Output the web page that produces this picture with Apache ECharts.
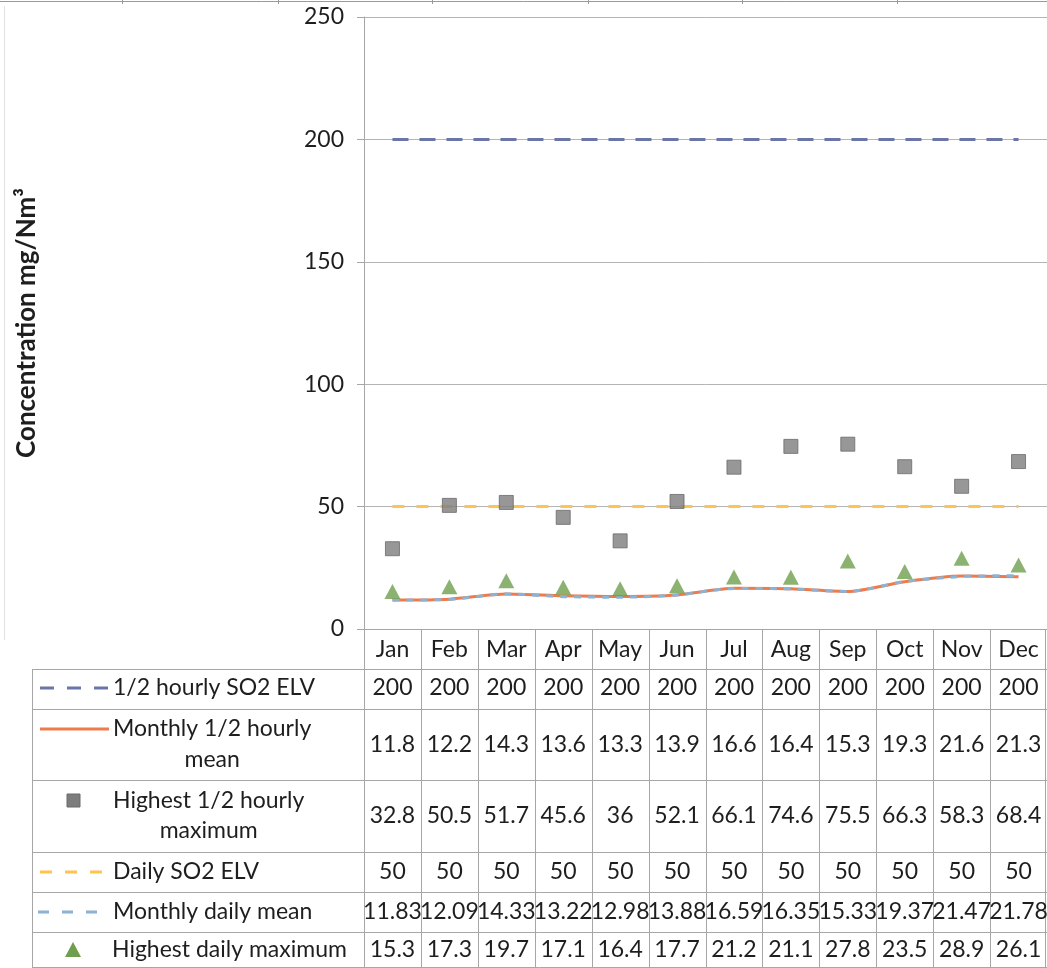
<!DOCTYPE html>
<html>
<head>
<meta charset="utf-8">
<script src="https://cdn.jsdelivr.net/npm/echarts@6/dist/echarts.min.js"></script>
<style>
  html, body { margin: 0; padding: 0; background: #fff; }
  #chart { width: 1047px; height: 968px; }
</style>
</head>
<body>
<div id="chart"></div>
<script>
// Monthly SO2 concentrations against emission limit values (mg/Nm3)
const months = ['Jan', 'Feb', 'Mar', 'Apr', 'May', 'Jun', 'Jul', 'Aug', 'Sep', 'Oct', 'Nov', 'Dec'];
const halfHourlyElv = [200, 200, 200, 200, 200, 200, 200, 200, 200, 200, 200, 200];
const monthlyHalfHourlyMean = [11.8, 12.2, 14.3, 13.6, 13.3, 13.9, 16.6, 16.4, 15.3, 19.3, 21.6, 21.3];
const highestHalfHourlyMax = [32.8, 50.5, 51.7, 45.6, 36, 52.1, 66.1, 74.6, 75.5, 66.3, 58.3, 68.4];
const dailyElv = [50, 50, 50, 50, 50, 50, 50, 50, 50, 50, 50, 50];
const monthlyDailyMean = [11.83, 12.09, 14.33, 13.22, 12.98, 13.88, 16.59, 16.35, 15.33, 19.37, 21.47, 21.78];
const highestDailyMax = [15.3, 17.3, 19.7, 17.1, 16.4, 17.7, 21.2, 21.1, 27.8, 23.5, 28.9, 26.1];
const yTicks = [0, 50, 100, 150, 200, 250];

const FONT = 'Lato, "Open Sans", "DejaVu Sans", sans-serif';
const FS = 23;
const TEXT = '#1e1e1e';
const RULE = '#a6a6a6';

const COLORS = {
  halfElv: '#6b76a8',
  halfMean: '#ee7b4c',
  halfMax: '#7d7d7d',
  dayElv: '#ffc44f',
  dayMean: '#8db2d2',
  dayMax: '#6f9f4e'
};

const GRID = { left: 364, top: 17, right: 0, bottom: 339, containLabel: false, outerBoundsMode: 'none' };

const chart = echarts.init(document.getElementById('chart'), null, { renderer: 'canvas' });

chart.setOption({
  animation: false,
  backgroundColor: '#ffffff',
  grid: GRID,
  xAxis: {
    type: 'category',
    data: months,
    boundaryGap: true,
    axisLine: { show: true, lineStyle: { color: RULE, width: 1 } },
    axisTick: { show: false },
    axisLabel: { fontFamily: FONT, fontSize: FS, color: TEXT, margin: 9, interval: 0, hideOverlap: false },
    splitLine: { show: false }
  },
  yAxis: {
    type: 'value',
    min: yTicks[0],
    max: yTicks[yTicks.length - 1],
    interval: 50,
    name: 'Concentration mg/Nm³',
    nameLocation: 'middle',
    nameGap: 324,
    nameRotate: 90,
    nameTextStyle: { fontFamily: FONT, fontSize: 26, fontWeight: 'bold', color: TEXT },
    axisLine: { show: true, lineStyle: { color: RULE, width: 1 } },
    axisTick: { show: true, length: 7, lineStyle: { color: RULE } },
    axisLabel: { fontFamily: FONT, fontSize: FS, color: TEXT, margin: 20 },
    splitLine: { show: true, lineStyle: { color: '#b4b4b4', width: 1 } }
  },
  series: [
    {
      name: '1/2 hourly SO2 ELV', type: 'line', data: halfHourlyElv, symbol: 'none',
      lineStyle: { color: COLORS.halfElv, width: 3, type: [16, 11] }, z: 3
    },
    {
      name: 'Daily SO2 ELV', type: 'line', data: dailyElv, symbol: 'none',
      lineStyle: { color: COLORS.dayElv, width: 3, type: [12, 12] }, z: 3
    },
    {
      name: 'Monthly 1/2 hourly mean', type: 'line', data: monthlyHalfHourlyMean, symbol: 'none',
      smooth: 0.25, lineStyle: { color: COLORS.halfMean, width: 3 }, z: 4
    },
    {
      name: 'Monthly daily mean', type: 'line', data: monthlyDailyMean, symbol: 'none',
      smooth: 0.25, lineStyle: { color: COLORS.dayMean, width: 3, type: [7, 7] }, z: 5
    },
    {
      name: 'Highest 1/2 hourly maximum', type: 'scatter', data: highestHalfHourlyMax,
      symbol: 'rect', symbolSize: 14,
      itemStyle: { color: COLORS.halfMax, borderColor: '#6a6a6a', borderWidth: 1 }, z: 6
    },
    {
      name: 'Highest daily maximum', type: 'scatter', data: highestDailyMax,
      symbol: 'triangle', symbolSize: [16, 15],
      itemStyle: { color: COLORS.dayMax }, z: 7
    }
  ]
});

// ---- data table under the plot, aligned with the category columns ----
const plotLeft = GRID.left;
const plotRight = 1047 - GRID.right;
const colW = (plotRight - plotLeft) / months.length;
const axisY = 968 - GRID.bottom;

const rowLines = [669, 709, 780, 852, 892, 932, 967];
const tableLeft = 32;
const tableBottom = 968;

const rows = [
  { y: 688, values: halfHourlyElv.map(String) },
  { y: 745, values: monthlyHalfHourlyMean.map(String) },
  { y: 816, values: highestHalfHourlyMax.map(String) },
  { y: 872, values: dailyElv.map(String) },
  { y: 912, values: monthlyDailyMean.map(String) },
  { y: 950, values: highestDailyMax.map(String) }
];

const ctx = document.createElement('canvas').getContext('2d');
ctx.font = FS + 'px ' + FONT;
function textW(s) { return ctx.measureText(s).width; }

const g = [];
function hLine(x1, x2, y, color) {
  g.push({ type: 'line', silent: true, shape: { x1, y1: y + 0.5, x2, y2: y + 0.5 },
    style: { stroke: color || RULE, lineWidth: 1 } });
}
function vLine(x, y1, y2, color) {
  g.push({ type: 'line', silent: true, shape: { x1: x + 0.5, y1, x2: x + 0.5, y2 },
    style: { stroke: color || RULE, lineWidth: 1 } });
}
function label(x, y, text, align) {
  g.push({ type: 'text', silent: true, x, y, z: 10,
    style: { text, font: FS + 'px ' + FONT, fill: TEXT, align: align || 'left', verticalAlign: 'middle' } });
}

// borders
rowLines.forEach(y => hLine(tableLeft, plotRight, y));
vLine(tableLeft, rowLines[0], tableBottom);
vLine(plotLeft, axisY, tableBottom);
for (let k = 1; k < months.length; k++) {
  vLine(Math.round(plotLeft + k * colW), axisY, tableBottom);
}
vLine(plotRight - 2, axisY, tableBottom);

// cell values, centred on each category
rows.forEach(r => {
  r.values.forEach((v, i) => {
    const cx = chart.convertToPixel({ xAxisIndex: 0 }, i);
    label(cx, r.y, v, 'center');
  });
});

// legend keys and names in the first column
const keyX1 = 40, keyX2 = 109, nameX = 113;
function keyLine(y, color, dash) {
  g.push({ type: 'line', silent: true, shape: { x1: keyX1, y1: y, x2: keyX2, y2: y },
    style: { stroke: color, lineWidth: 3, lineDash: dash || null } });
}
function wrapped(y1, y2, first, second) {
  label(nameX, y1, first, 'left');
  label(nameX + textW(first) / 2, y2, second, 'center');
}

keyLine(688, COLORS.halfElv, [14, 13]);
label(nameX, 688, '1/2 hourly SO2 ELV');

keyLine(729, COLORS.halfMean);
wrapped(729, 760, 'Monthly 1/2 hourly', 'mean');

g.push({ type: 'rect', silent: true, shape: { x: 67, y: 794, width: 13, height: 13 },
  style: { fill: COLORS.halfMax, stroke: '#6a6a6a', lineWidth: 1 } });
wrapped(801, 831, 'Highest 1/2 hourly', 'maximum');

keyLine(872, COLORS.dayElv, [12, 13]);
label(nameX, 872, 'Daily SO2 ELV');

g.push({ type: 'line', silent: true, shape: { x1: 38, y1: 912, x2: 97, y2: 912 },
  style: { stroke: COLORS.dayMean, lineWidth: 3, lineDash: [11, 13] } });
label(nameX, 912, 'Monthly daily mean');

g.push({ type: 'polygon', silent: true, shape: { points: [[73, 942], [81, 957], [65, 957]] },
  style: { fill: COLORS.dayMax } });
label(nameX - 1, 950, 'Highest daily maximum');

// frame edges of the surrounding page
hLine(0, 1047, 1, '#9a9a9a');
[122, 278, 432, 588, 742, 897].forEach(x => vLine(x, 0, 4, '#9a9a9a'));
vLine(4, 6, 640, '#e2e2e2');

chart.setOption({ graphic: g });
</script>
</body>
</html>
